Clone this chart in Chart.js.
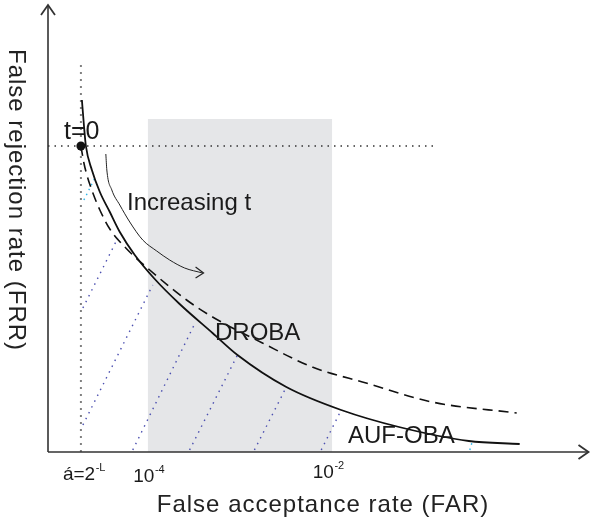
<!DOCTYPE html>
<html>
<head>
<meta charset="utf-8">
<script src="https://cdn.jsdelivr.net/npm/chart.js@4.4.1/dist/chart.umd.min.js"></script>
<style>
  html, body { margin: 0; padding: 0; background: #fff; }
  canvas { display: block; }
</style>
</head>
<body>
<canvas id="rocChart" width="593" height="524"></canvas>
<script>
// schematic units: FAR grows to the right, FRR grows upwards
const aufObaFar = [34, 36, 38, 44, 52, 62, 72, 87, 107, 132, 165, 190, 239, 294, 352, 422, 473];
const aufObaFrr = [352, 327, 306, 282, 260, 240, 220, 197, 173, 148, 119, 97, 65, 42, 25, 11, 8];

const drobaFar = [33, 36, 39, 45, 52, 62, 79, 102, 139, 165, 215, 265, 319, 385, 470];
const drobaFrr = [306, 289, 277, 259, 242, 223, 203, 182, 152, 135, 109, 85, 69, 50, 39];

const increasingFar = [58, 59, 64, 72, 82, 95, 109, 122, 137, 155];
const increasingFrr = [298, 282, 262, 247, 230, 212, 201, 192, 184, 179];

// dotted iso lines (start, end)
const isoFar = [[35, 70], [35, 105], [85, 148], [142, 190], [207, 239], [274, 294]];
const isoFrr = [[144, 214], [27, 167], [2, 130], [2, 97], [2, 65], [2, 42]];
const cyanFar = [[36, 47], [423, 425]];
const cyanFrr = [[252, 274], [2, 9]];

const startFar = 33;     // t = 0 operating point
const startFrr = 306;
const bandFar = [100, 285];   // shaded region 10^-4 .. 10^-2
const bandTop = 333;
const guideTop = 387;
const guideRight = 387;

const tickFar = [33, 100, 285];
const tickBase = ['á=2', '10', '10'];
const tickExp = ['-L', '-4', '-2'];

const FONT = "'Liberation Sans', Arial, sans-serif";

function pts(xs, ys) {
    return xs.map((x, i) => ({ x: x, y: ys[i] }));
}

const datasets = [];

datasets.push({
    label: 'AUF-OBA',
    data: pts(aufObaFar, aufObaFrr),
    borderColor: '#111',
    borderWidth: 1.8,
    cubicInterpolationMode: 'monotone',
    pointRadius: 0,
    fill: false
});
datasets.push({
    label: 'DROBA',
    data: pts(drobaFar, drobaFrr),
    borderColor: '#111',
    borderWidth: 1.6,
    borderDash: [10, 6],
    cubicInterpolationMode: 'monotone',
    pointRadius: 0,
    fill: false
});
datasets.push({
    label: 'Increasing t',
    data: pts(increasingFar, increasingFrr),
    borderColor: '#222',
    borderWidth: 1,
    cubicInterpolationMode: 'monotone',
    pointRadius: 0,
    fill: false
});
datasets.push({
    label: 't=0',
    data: [{ x: startFar, y: startFrr }],
    pointRadius: 4.5,
    pointBackgroundColor: '#111',
    pointBorderWidth: 0,
    showLine: false
});
isoFar.forEach((xs, i) => {
    datasets.push({
        data: pts(xs, isoFrr[i]),
        borderColor: '#4b4fb0',
        borderWidth: 1.4,
        borderDash: [1.5, 5],
        pointRadius: 0,
        fill: false
    });
});
cyanFar.forEach((xs, i) => {
    datasets.push({
        data: pts(xs, cyanFrr[i]),
        borderColor: '#2fb4e8',
        borderWidth: 1.4,
        borderDash: [1.5, 4],
        pointRadius: 0,
        fill: false
    });
});
// guide lines through the t=0 point
datasets.push({
    data: [{ x: startFar, y: 0 }, { x: startFar, y: guideTop }],
    borderColor: '#808080',
    borderWidth: 2,
    borderDash: [2, 5],
    pointRadius: 0,
    fill: false
});
datasets.push({
    data: [{ x: 0, y: startFrr }, { x: guideRight, y: startFrr }],
    borderColor: '#333',
    borderWidth: 1.3,
    borderDash: [1.5, 5],
    pointRadius: 0,
    fill: false
});
// shaded band
datasets.push({
    data: [{ x: bandFar[0], y: bandTop }, { x: bandFar[1], y: bandTop }],
    borderWidth: 0,
    pointRadius: 0,
    backgroundColor: '#e5e6e8',
    fill: 'origin',
    order: 5
});

function chevron(ctx, x, y, dx1, dy1, dx2, dy2) {
    ctx.beginPath();
    ctx.moveTo(x + dx1, y + dy1);
    ctx.lineTo(x, y);
    ctx.lineTo(x + dx2, y + dy2);
    ctx.stroke();
}

function supText(ctx, base, exp, cx, baseline, size) {
    ctx.font = size + 'px ' + FONT;
    const wb = ctx.measureText(base).width;
    ctx.font = Math.round(size * 0.6) + 'px ' + FONT;
    const we = ctx.measureText(exp).width;
    const x0 = cx - (wb + we) / 2;
    ctx.font = size + 'px ' + FONT;
    ctx.fillText(base, x0, baseline);
    ctx.font = Math.round(size * 0.6) + 'px ' + FONT;
    ctx.fillText(exp, x0 + wb + 0.5, baseline - size * 0.45);
}

const decorPlugin = {
    id: 'decor',
    afterDatasetsDraw(chart) {
        const ctx = chart.ctx;
        const xs = chart.scales.x;
        const ys = chart.scales.y;
        const left = xs.getPixelForValue(0);
        const bottom = ys.getPixelForValue(0);
        ctx.save();

        // axes with open arrow heads
        ctx.strokeStyle = '#333';
        ctx.lineWidth = 1.6;
        ctx.beginPath();
        ctx.moveTo(left, bottom);
        ctx.lineTo(left, chart.chartArea.top);
        ctx.moveTo(left, bottom);
        ctx.lineTo(chart.chartArea.right, bottom);
        ctx.stroke();
        ctx.lineWidth = 1.8;
        chevron(ctx, left, chart.chartArea.top, -7, 10, 7, 10);
        chevron(ctx, chart.chartArea.right, bottom, -10, -7, -10, 7);

        // arrow head on "increasing t"
        const n = increasingFar.length - 1;
        const ax = xs.getPixelForValue(increasingFar[n]);
        const ay = ys.getPixelForValue(increasingFrr[n]);
        ctx.lineWidth = 1.2;
        ctx.strokeStyle = '#222';
        chevron(ctx, ax + 1, ay, -8, -6, -8, 5);

        // annotations
        ctx.fillStyle = '#1a1a1a';
        ctx.textBaseline = 'alphabetic';
        ctx.textAlign = 'left';
        ctx.font = '25px ' + FONT;
        ctx.fillText('t=0', 64, 139);
        ctx.font = '24px ' + FONT;
        ctx.fillText('Increasing t', 127, 210);
        ctx.fillText('DROBA', 215, 340);
        ctx.fillText('AUF-OBA', 348, 443);

        // tick labels
        supText(ctx, tickBase[0], tickExp[0], xs.getPixelForValue(tickFar[0]) + 3, 480, 19);
        supText(ctx, tickBase[1], tickExp[1], xs.getPixelForValue(tickFar[1]) + 1, 482, 19);
        supText(ctx, tickBase[2], tickExp[2], xs.getPixelForValue(tickFar[2]) - 4, 478, 19);

        // axis titles
        ctx.fillStyle = '#222';
        ctx.textAlign = 'center';
        ctx.font = '24px ' + FONT;
        ctx.letterSpacing = '1px';
        ctx.fillText('False acceptance rate (FAR)', 323, 512);
        ctx.save();
        ctx.translate(16, 200);
        ctx.rotate(Math.PI / 2);
        ctx.textBaseline = 'middle';
        ctx.fillText('False rejection rate (FRR)', 0, 0);
        ctx.restore();

        ctx.restore();
    }
};

new Chart(document.getElementById('rocChart').getContext('2d'), {
    type: 'line',
    data: { datasets: datasets },
    options: {
        responsive: false,
        animation: false,
        layout: { padding: { left: 48, right: 3, top: 5, bottom: 72 } },
        scales: {
            x: { type: 'linear', min: 0, max: 542, display: false },
            y: { type: 'linear', min: 0, max: 447, display: false }
        },
        plugins: {
            legend: { display: false },
            tooltip: { enabled: false }
        }
    },
    plugins: [decorPlugin]
});
</script>
</body>
</html>
